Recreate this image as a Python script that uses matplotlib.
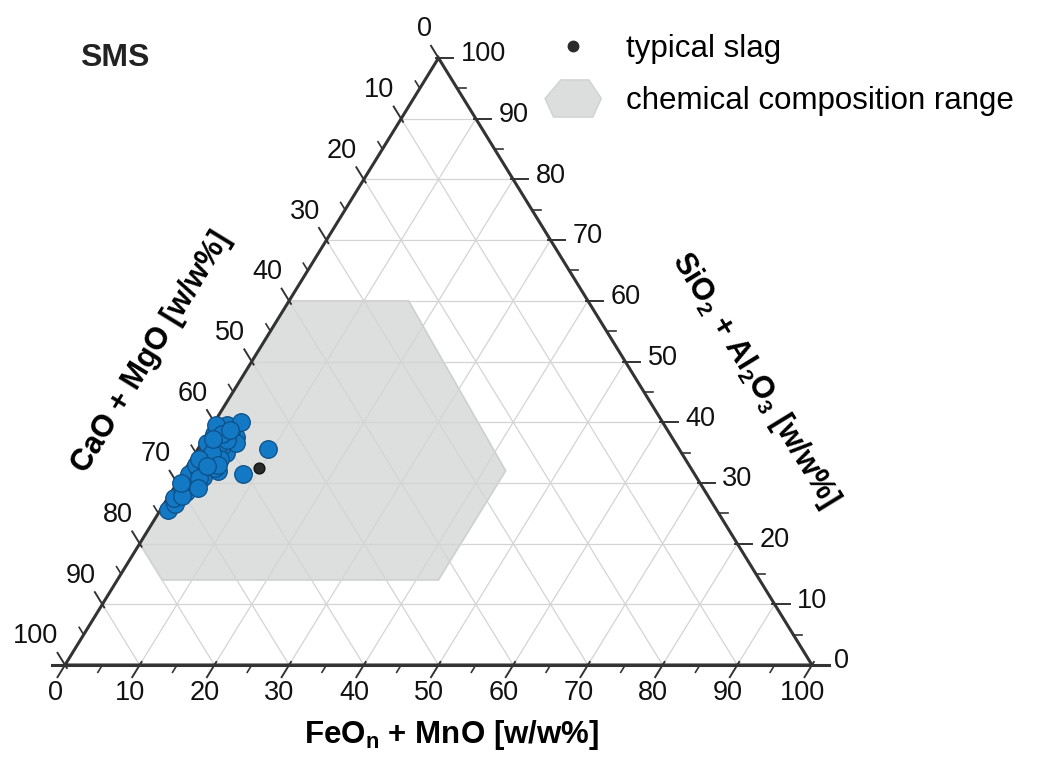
import numpy as np
import matplotlib
matplotlib.use('Agg')
import matplotlib.pyplot as plt
from matplotlib.patches import Polygon
from matplotlib.lines import Line2D
from matplotlib.legend_handler import HandlerPatch

plt.rcParams['font.family'] = ['Liberation Sans', 'DejaVu Sans']
plt.rcParams['mathtext.fontset'] = 'custom'
plt.rcParams['mathtext.rm'] = 'Liberation Sans:bold'
plt.rcParams['mathtext.bf'] = 'Liberation Sans:bold'

# measured samples: FeOn+MnO and SiO2+Al2O3 (CaO+MgO is the rest)
feo = [1.0, 1.5, 0.8, 2.0, 1.2, 2.8, 1.5, 0.8, 3.0, 2.0, 4.5, 1.0, 3.5, 2.5, 1.5,
       4.0, 3.0, 0.8, 2.0, 4.2, 1.0, 3.0, 2.0, 3.5, 0.5, 2.5, 3.8, 1.8,
       4.6, 3.2, 2.2, 1.0, 3.8, 2.5, 3.2, 1.8, 0.5, 2.0, 2.7, 4.0, 1.2, 2.6,
       9.4, 8.1]
sio2 = [25.5, 26.5, 27.5, 28.5, 29.0, 30.0, 30.5, 31.5, 31.0, 32.0, 32.0, 33.0, 33.5, 34.0, 35.0,
        35.0, 36.0, 36.5, 37.0, 37.5, 38.0, 38.5, 39.5, 40.0, 39.5, 36.0, 34.0, 33.5,
        36.5, 37.0, 35.0, 34.0, 32.5, 30.8, 29.2, 27.8, 30.0, 38.0, 38.7, 33.0, 37.3, 32.8,
        35.6, 31.5]

# typical slag
typ_feo = [9.7]
typ_sio2 = [32.5]

# chemical composition range (hexagon corners)
range_feo = [0, 16, 43, 43, 6, 0]
range_sio2 = [60, 60, 32, 14, 14, 20]

ticks = np.arange(0, 101, 10)
minor = np.arange(5, 100, 10)


def tern(b, r):
    b = np.asarray(b, dtype=float)
    r = np.asarray(r, dtype=float)
    return b + r / 2, r


fig = plt.figure(figsize=(10.38, 7.58), dpi=100)
ax = fig.add_axes([65 / 1038, 93 / 758, 747 / 1038, 607 / 758])
ax.set_xlim(0, 100)
ax.set_ylim(0, 100)
ax.axis('off')

gc = '#d4d4d4'
# grid
for v in ticks[1:-1]:
    x, y = tern([v, v], [0, 100 - v])
    ax.plot(x, y, color=gc, lw=0.9, zorder=2)
    x, y = tern([0, 100 - v], [v, v])
    ax.plot(x, y, color=gc, lw=0.9, zorder=2)
    x, y = tern([0, 100 - v], [100 - v, 0])
    ax.plot(x, y, color=gc, lw=0.9, zorder=2)

# composition range
hx, hy = tern(range_feo, range_sio2)
ax.add_patch(Polygon(np.column_stack([hx, hy]), closed=True, facecolor='#d8dada',
                     edgecolor='#c9cbcb', lw=1.2, alpha=0.85, zorder=1))

# frame
ac = '#333333'
x, y = tern([0, 100, 0, 0], [0, 0, 100, 0])
ax.plot(x, y, color=ac, lw=2.2, zorder=5, clip_on=False, solid_joinstyle='miter')
ax.plot([-1.8, 102.3], [0, 0], color=ac, lw=2.2, zorder=5, clip_on=False)

# ticks
for v in ticks:
    # bottom axis (FeO), along constant-B lines
    x0, y0 = tern(v, 0)
    ax.plot([x0 + 0.25, x0 - 1.0], [0.5, -2.0], color=ac, lw=1.4, clip_on=False, zorder=5)
    ax.text(x0 - 1.3, -4.6, f'{v}', fontsize=19.5, ha='center', va='center', color='#111')
    # left axis (CaO), along constant-L lines
    x0, y0 = tern(0, 100 - v)
    ax.plot([x0 + 0.25, x0 - 1.0], [y0 - 0.5, y0 + 2.0], color=ac, lw=1.4, clip_on=False, zorder=5)
    ax.text(x0 - 0.9, y0 + 4.7, f'{v}', fontsize=19.5, ha='right', va='center', color='#111')
    # right axis (SiO2), horizontal
    x0, y0 = tern(100 - v, v)
    ax.plot([x0 - 0.3, x0 + 2.0], [y0, y0], color=ac, lw=1.4, clip_on=False, zorder=5)
    ax.text(x0 + 3.0, y0 + 0.6, f'{v}', fontsize=19.5, ha='left', va='center', color='#111')

for v in minor:
    x0, y0 = tern(v, 0)
    ax.plot([x0, x0 - 0.6], [0, -1.2], color=ac, lw=1.2, clip_on=False, zorder=5)
    x0, y0 = tern(0, 100 - v)
    ax.plot([x0, x0 - 0.6], [y0, y0 + 1.2], color=ac, lw=1.2, clip_on=False, zorder=5)
    x0, y0 = tern(100 - v, v)
    ax.plot([x0, x0 + 1.2], [y0, y0], color=ac, lw=1.2, clip_on=False, zorder=5)

# data
px, py = tern(feo, sio2)
ax.scatter(px, py, s=160, color='#1479c4', edgecolors='#0d4f86', linewidths=0.9, zorder=6, clip_on=False)
tx, ty = tern(typ_feo, typ_sio2)
ax.scatter(tx, ty, s=60, color='#2b2b2b', edgecolors='#111', zorder=7)

# axis titles
ax.text(51.7, -11.6, r'FeO$_{\mathbf{n}}$ + MnO [w/w%]', fontsize=22.5, fontweight='bold',
        ha='center', va='center', clip_on=False)
ax.text(11.6, 51.6, 'CaO + MgO [w/w%]', fontsize=22, fontweight='bold', rotation=58.5,
        ha='center', va='center', rotation_mode='anchor')
ax.text(92.4, 47.0, r'SiO$_{\mathbf{2}}$ + Al$_{\mathbf{2}}$O$_{\mathbf{3}}$ [w/w%]', fontsize=22,
        fontweight='bold', rotation=-58.5, ha='center', va='center', rotation_mode='anchor')
ax.text(2.0, 100.0, 'SMS', fontsize=23, fontweight='bold', ha='left', va='center', color='#222')


class HexHandler(HandlerPatch):
    def create_artists(self, legend, orig_handle, xdescent, ydescent, width, height, fontsize, trans):
        w, h = width, height * 1.7
        cx, cy = width / 2 - xdescent, height / 2 - ydescent
        pts = np.array([[-0.22, 0.5], [0.28, 0.5], [0.5, 0.0], [0.35, -0.5], [-0.35, -0.5], [-0.5, 0.0]])
        pts = pts * [w, h] + [cx, cy]
        p = Polygon(pts, closed=True, facecolor='#dcdede', edgecolor='#d0d2d2', transform=trans)
        return [p]


h1 = Line2D([], [], ls='none', marker='o', color='#2b2b2b', markersize=7.5)
h2 = Polygon([[0, 0]], closed=True)
ax.legend([h1, h2], ['typical slag', 'chemical composition range'],
          handler_map={Polygon: HexHandler()}, loc='upper left', bbox_to_anchor=(0.605, 1.086),
          frameon=False, fontsize=22.5, handlelength=1.8, labelspacing=0.72, handletextpad=0.8)

fig.savefig('out.png', dpi=100)
